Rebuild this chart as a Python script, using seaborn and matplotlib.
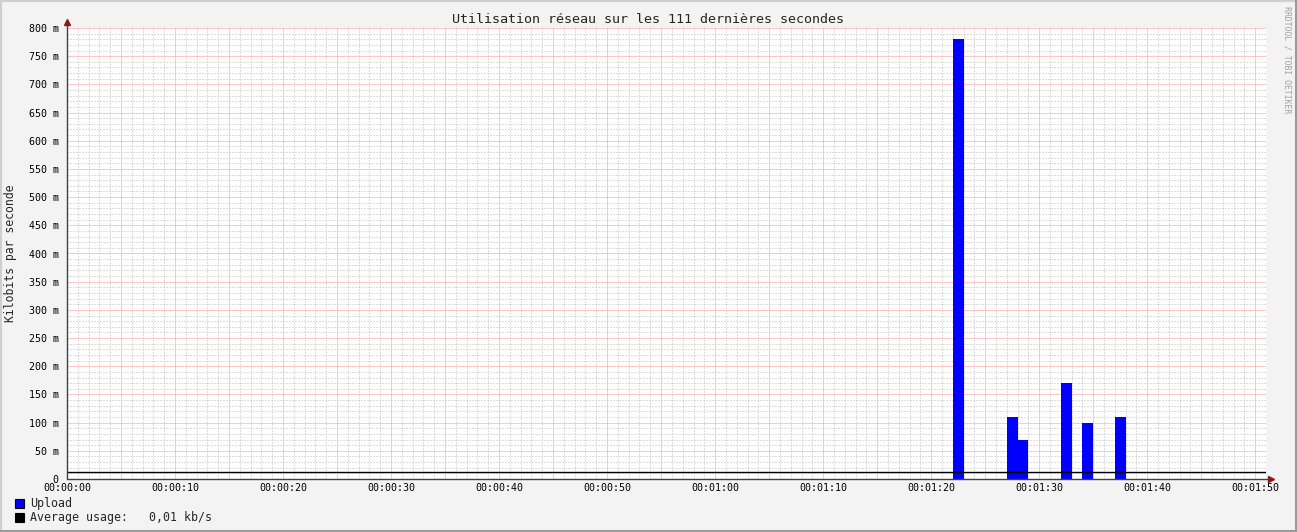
import numpy as np
import pandas as pd
import matplotlib
matplotlib.use("Agg")
import matplotlib.pyplot as plt
import matplotlib.ticker as mticker
from matplotlib.patches import Rectangle
import seaborn as sns

# ---- data ----
seconds = [82, 87, 88, 92, 94, 97]          # start second of each non-zero sample
upload_mbits = [780, 110, 70, 170, 100, 110]  # values in milli-kilobits/s ("m")
window = 111
tick_labels = ["00:00:00", "00:00:10", "00:00:20", "00:00:30", "00:00:40", "00:00:50",
               "00:01:00", "00:01:10", "00:01:20", "00:01:30", "00:01:40", "00:01:50"]
title = "Utilisation réseau sur les 111 dernières secondes"
ylabel = "Kilobits par seconde"
legend_upload = "Upload"
legend_avg = "Average usage:   0,01 kb/s"
watermark = "RRDTOOL / TOBI OETIKER"

df = pd.DataFrame({"t": [s + 0.5 for s in seconds], "v": upload_mbits})
avg = float(np.sum(upload_mbits)) / window

sns.set_theme(style="white")
plt.rcParams["font.family"] = ["DejaVu Sans Mono", "DejaVu Sans"]

W, H = 1297, 532
fig = plt.figure(figsize=(W / 100, H / 100), dpi=100, facecolor="#F3F3F3")
x0, x1, ytop, ybot = 67, 1266, 28, 479
ax = fig.add_axes([x0 / W, (H - ybot) / H, (x1 - x0) / W, (ybot - ytop) / H])
ax.set_facecolor("white")

sns.histplot(data=df, x="t", weights="v", bins=window, binrange=(0, window), ax=ax,
             color="#0000FF", alpha=1.0, linewidth=0, element="bars", legend=False)

ax.axhline(avg, color="black", lw=1.0, zorder=5)

ax.set_xlim(0, window)
ax.set_ylim(0, 800)

# grid
ax.xaxis.set_major_locator(mticker.MultipleLocator(5))
ax.xaxis.set_minor_locator(mticker.MultipleLocator(1))
ax.yaxis.set_major_locator(mticker.MultipleLocator(50))
ax.yaxis.set_minor_locator(mticker.MultipleLocator(10))
ax.grid(which="minor", color="#BDBDBD", lw=0.72, ls=(0, (1, 2)))
ax.grid(which="major", color="#FF9090", lw=0.72, ls=(0, (1, 1)))
ax.set_axisbelow(True)

def xfmt(v, pos):
    i = int(round(v))
    if i % 10 == 0 and 0 <= i // 10 < len(tick_labels):
        return tick_labels[i // 10]
    return ""
ax.xaxis.set_major_formatter(mticker.FuncFormatter(xfmt))

def yfmt(v, pos):
    i = int(round(v))
    return "0" if i == 0 else f"{i} m"
ax.yaxis.set_major_formatter(mticker.FuncFormatter(yfmt))

ax.tick_params(axis="both", which="both", length=0, labelsize=7.2, colors="black")
ax.tick_params(axis="x", which="major", pad=3)
ax.tick_params(axis="y", which="major", pad=6)
for s in ax.spines.values():
    s.set_visible(False)

ax.set_xlabel("")
ax.set_ylabel("")
fig.text(11 / W, 1 - 253 / H, ylabel, rotation=90, ha="center", va="center", fontsize=8.3)

# axis lines with arrows
ax.plot([0, 0], [0, 1.013], transform=ax.transAxes, color="#404040", lw=1, clip_on=False, zorder=6)
ax.plot([0, 1.004], [0, 0], transform=ax.transAxes, color="#404040", lw=1, clip_on=False, zorder=6)
ax.plot([0], [1.013], transform=ax.transAxes, marker="^", ms=4, color="#8B1A1A", clip_on=False, zorder=7)
ax.plot([1.004], [0], transform=ax.transAxes, marker=">", ms=4, color="#8B1A1A", clip_on=False, zorder=7)

fig.text(648 / W, 1 - 19.5 / H, title, ha="center", va="center", fontsize=9.6)
fig.text(1287 / W, 1 - 60 / H, watermark, ha="center", va="center", rotation=270,
         fontsize=5.9, color="#A0A0A0")

# legend
for i, (lab, col) in enumerate([(legend_upload, "#0000FF"), (legend_avg, "black")]):
    yc = 503.5 + i * 14
    fig.patches.append(Rectangle((15 / W, 1 - (yc + 4.5) / H), 9 / W, 9 / H,
                                 transform=fig.transFigure, facecolor=col,
                                 edgecolor="black", lw=0.8))
    fig.text(30 / W, 1 - yc / H, lab, ha="left", va="center", fontsize=8.4)

# frame
fig.patches.append(Rectangle((0, 0), 1, 1, transform=fig.transFigure, fill=False,
                             edgecolor="#CFCFCF", lw=3))
fig.patches.append(Rectangle((0, 0), 1, 2.5 / H, transform=fig.transFigure,
                             facecolor="#9A9A9A", lw=0))
fig.patches.append(Rectangle((1 - 2.5 / W, 0), 2.5 / W, 1, transform=fig.transFigure,
                             facecolor="#9A9A9A", lw=0))

fig.savefig("out.png", dpi=100, facecolor=fig.get_facecolor())
